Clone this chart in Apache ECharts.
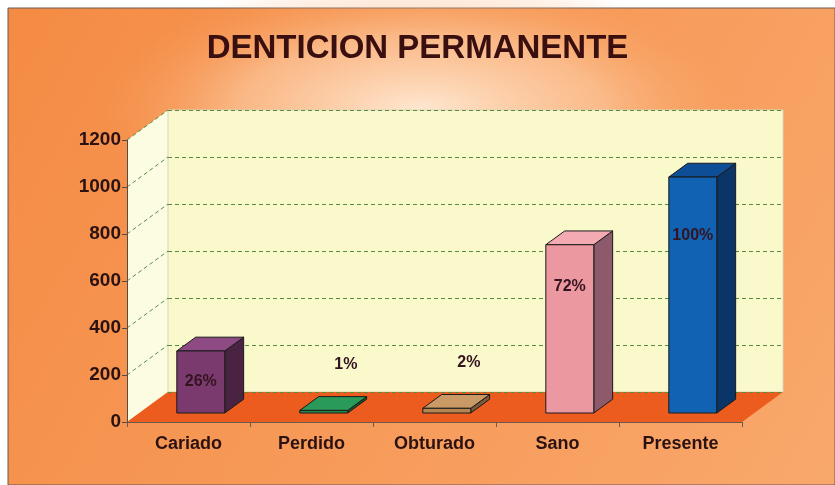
<!DOCTYPE html>
<html>
<head>
<meta charset="utf-8">
<title>Denticion permanente</title>
<script src="https://cdn.jsdelivr.net/npm/echarts@6/dist/echarts.min.js"></script>
<style>
html,body{margin:0;padding:0;background:#fff;}
#chart{width:835px;height:485px;}
</style>
</head>
<body>
<div id="chart"></div>
<script>
// datos
var categorias = ['Cariado', 'Perdido', 'Obturado', 'Sano', 'Presente'];
var valores = [264, 11, 20, 716, 1004];
var porcentajes = ['26%', '1%', '2%', '72%', '100%'];
var yTicks = [0, 200, 400, 600, 800, 1000, 1200];

// colores de cada barra (frente, tapa, lado)
var colFrente = ['#7a3a6e', '#1f8a4c', '#b48652', '#ec98a0', '#1262b4'];
var colTapa = ['#8e4a82', '#2a9a5a', '#c99a66', '#f4aab2', '#0e4e96'];
var colLado = ['#4a2342', '#145a32', '#7a5a38', '#8c5a6a', '#0a3566'];

// caja frontal del grafico y desplazamiento de profundidad
var L = 127, T = 140, W = 615, H = 282;
var DX = 41, DY = -30;
var FUENTE = '"Liberation Sans", Arial, sans-serif';
var verde = '#5b8a45';

function yDe(v) {
	return T + H * (1 - v / yTicks[yTicks.length - 1]);
}

// barra "3d": frente + tapa + lado
function barra3d(params, api) {
	var i = api.value(0), v = api.value(1);
	var p0 = api.coord([i, 0]);
	var p1 = api.coord([i, v]);
	var banda = api.size([1, 0])[0];
	var w = banda * 0.39;
	var d0 = 0.3, d1 = 0.76;
	var x = p0[0] - w / 2 + DX * d0;
	var yb = p0[1] + DY * d0;
	var yt = p1[1] + DY * d0;
	var h = yb - yt;
	var ddx = DX * (d1 - d0), ddy = DY * (d1 - d0);
	var borde = { stroke: '#1a1a1a', lineWidth: 1 };

	var lx, ly;
	if (h > 20) {
		lx = x + w / 2;
		ly = yt + Math.max(h * 0.25, Math.min(h / 2, 31));
	} else {
		lx = x + w / 2 + 22;
		ly = yt - 46;
	}

	return {
		type: 'group',
		children: [
			{
				type: 'polygon',
				shape: { points: [[x + w, yt], [x + w + ddx, yt + ddy], [x + w + ddx, yb + ddy], [x + w, yb]] },
				style: echarts.util.extend({ fill: colLado[i] }, borde)
			},
			{
				type: 'polygon',
				shape: { points: [[x, yt], [x + w, yt], [x + w + ddx, yt + ddy], [x + ddx, yt + ddy]] },
				style: echarts.util.extend({ fill: colTapa[i] }, borde)
			},
			{
				type: 'rect',
				shape: { x: x, y: yt, width: w, height: h },
				style: echarts.util.extend({ fill: colFrente[i] }, borde)
			},
			{
				type: 'text',
				style: {
					text: porcentajes[i], x: lx, y: ly,
					fill: '#33141f', font: 'bold 16px ' + FUENTE,
					align: 'center', verticalAlign: 'middle'
				}
			}
		]
	};
}

// fondo, paredes y piso
var fondo = [
	{
		type: 'rect', z: -30,
		shape: { x: 8, y: 8, width: 827, height: 477 },
		style: {
			fill: new echarts.graphic.LinearGradient(0, 0, 1, 1, [
				{ offset: 0, color: '#f48b44' },
				{ offset: 1, color: '#f9a86c' }
			]),
			stroke: '#6b5a50', lineWidth: 1
		}
	},
	{
		type: 'circle', z: -29,
		shape: { cx: 420, cy: 110, r: 150 },
		scaleX: 2.2, scaleY: 0.9, originX: 420, originY: 110,
		style: {
			fill: new echarts.graphic.RadialGradient(0.5, 0.5, 0.5, [
				{ offset: 0, color: 'rgba(255,236,216,0.95)' },
				{ offset: 0.55, color: 'rgba(253,208,170,0.6)' },
				{ offset: 1, color: 'rgba(248,154,85,0)' }
			])
		}
	},
	{
		type: 'polygon', z: -20,
		shape: { points: [[L, T], [L + DX, T + DY], [L + DX, T + H + DY], [L, T + H]] },
		style: { fill: '#fcfce2' }
	},
	{
		type: 'rect', z: -20,
		shape: { x: L + DX, y: T + DY, width: W, height: H },
		style: { fill: '#f9f9cc', stroke: '#dcd6b4', lineWidth: 1 }
	},
	{
		type: 'polygon', z: -19,
		shape: { points: [[L, T + H], [L + DX, T + H + DY], [L + W + DX, T + H + DY], [L + W, T + H]] },
		style: { fill: '#ec5c1e' }
	}
];
// lineas diagonales en la pared izquierda
yTicks.forEach(function (v) {
	if (v === 0) return;
	fondo.push({
		type: 'line', z: -18,
		shape: { x1: L, y1: yDe(v), x2: L + DX, y2: yDe(v) + DY },
		style: { stroke: verde, lineWidth: 1, lineDash: [4, 3] }
	});
});

var chart = echarts.init(document.getElementById('chart'));
chart.setOption({
	animation: false,
	title: {
		text: 'DENTICION PERMANENTE',
		left: 'center',
		top: 27,
		textStyle: { fontSize: 33, fontWeight: 'bold', color: '#3a0f0f', fontFamily: FUENTE }
	},
	graphic: { elements: fondo },
	grid: [
		{ left: L, top: T, width: W, height: H },
		{ left: L + DX, top: T + DY, width: W, height: H }
	],
	xAxis: [
		{
			type: 'category', gridIndex: 0, data: categorias,
			axisLine: { lineStyle: { color: '#6b5a50', width: 1 } },
			axisTick: { show: true, length: 5, lineStyle: { color: '#6b5a50' } },
			axisLabel: { interval: 0, margin: 13, fontSize: 18, fontWeight: 'bold', color: '#2b1212', fontFamily: FUENTE }
		},
		{
			type: 'category', gridIndex: 1, data: categorias, show: false
		}
	],
	yAxis: [
		{
			type: 'value', gridIndex: 0, min: 0, max: 1200, interval: 200,
			axisLine: { show: true, lineStyle: { color: '#5a4a44', width: 1 } },
			axisTick: { show: true, length: 5, lineStyle: { color: '#5a4a44' } },
			splitLine: { show: false },
			axisLabel: {
				margin: 6, fontSize: 19, fontWeight: 'bold', color: '#2b1212', fontFamily: FUENTE,
				formatter: function (v) { return String(v); }
			}
		},
		{
			type: 'value', gridIndex: 1, min: 0, max: 1200, interval: 200,
			axisLine: { show: false }, axisTick: { show: false }, axisLabel: { show: false },
			splitLine: { show: true, lineStyle: { color: verde, width: 1, type: [4, 3] } }
		}
	],
	series: [
		{
			type: 'custom',
			xAxisIndex: 0, yAxisIndex: 0,
			renderItem: barra3d,
			encode: { x: 0, y: 1 },
			data: valores.map(function (v, i) { return [i, v]; })
		}
	]
});
</script>
</body>
</html>
